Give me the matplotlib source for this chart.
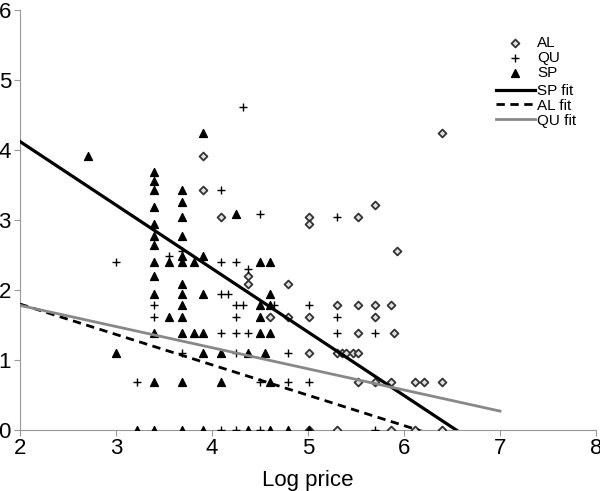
import numpy as np
import matplotlib
matplotlib.use("Agg")
import matplotlib.pyplot as plt

plt.rcParams['font.family'] = ['Liberation Sans', 'DejaVu Sans']

# SP points (log price, value)
sp_x = [2.71, 3.0, 3.22,
        3.4, 3.4, 3.4, 3.4, 3.4, 3.4, 3.4, 3.4, 3.4, 3.4, 3.4, 3.4, 3.4,
        3.555, 3.555,
        3.69, 3.69, 3.69, 3.69, 3.69, 3.69, 3.69, 3.69, 3.69, 3.69, 3.69, 3.69, 3.69,
        3.81, 3.81,
        3.91, 3.91, 3.91, 3.91, 3.91, 3.91,
        4.09, 4.09, 4.25, 4.38, 4.38,
        4.5, 4.5, 4.5, 4.5, 4.55,
        4.6, 4.6, 4.6, 4.6, 4.6, 4.6,
        4.79, 5.01]
sp_y = [3.91, 1.10, 0,
        3.69, 3.56, 3.43, 3.18, 2.94, 2.77, 2.64, 2.40, 2.20, 1.95, 1.39, 0.69, 0,
        2.40, 1.61,
        3.43, 3.26, 3.04, 2.77, 2.48, 2.40, 2.08, 1.95, 1.79, 1.61, 1.39, 0.69, 0,
        2.40, 1.39,
        4.25, 2.48, 1.95, 1.39, 1.10, 0,
        1.10, 0.69, 3.09, 1.10, 0,
        2.40, 1.79, 1.61, 1.39, 1.10,
        2.40, 1.95, 1.79, 1.39, 0.69, 0,
        0, 0]

# QU points
qu_x = [3.0, 3.22, 3.4, 3.4, 3.555, 3.69, 3.69,
        4.09, 4.09, 4.09, 4.09, 4.09, 4.17,
        4.25, 4.25, 4.25, 4.25, 4.25, 4.25,
        4.32, 4.32, 4.38, 4.38,
        4.5, 4.5, 4.5, 4.65,
        4.79, 4.79, 5.01, 5.01,
        5.3, 5.3, 5.3, 5.7, 5.7]
qu_y = [2.40, 0.69, 1.79, 1.61, 2.48, 2.56, 1.10,
        3.43, 2.40, 1.95, 1.39, 0, 1.95,
        2.40, 1.79, 1.61, 1.39, 1.10, 0,
        4.61, 1.79, 2.30, 1.39,
        3.09, 0.69, 0, 1.79,
        1.10, 0.69, 1.79, 0.69,
        3.04, 1.61, 1.39, 1.39, 0]

# AL points
al_x = [3.91, 3.91, 4.09, 4.38, 4.38, 4.6, 4.79, 4.79,
        5.01, 5.01, 5.01, 5.01, 5.01,
        5.3, 5.3, 5.3, 5.35, 5.4, 5.47,
        5.52, 5.52, 5.52, 5.52, 5.52,
        5.7, 5.7, 5.7, 5.7,
        5.86, 5.86, 5.86, 5.9, 5.93,
        6.11, 6.11, 6.21, 6.4, 6.4, 6.4]
al_y = [3.91, 3.43, 3.04, 2.20, 2.08, 1.61, 2.08, 1.61,
        3.04, 2.94, 1.61, 1.10, 0,
        1.79, 1.10, 0, 1.10, 1.10, 1.10,
        3.04, 1.79, 1.39, 1.10, 0.69,
        3.22, 1.79, 1.61, 0.69,
        1.79, 0.69, 0, 1.39, 2.56,
        0.69, 0, 0.69, 4.25, 0.69, 0]

# fitted lines: intercept, slope
sp_fit = (5.935, -0.907)
al_fit = (2.667, -0.434)
qu_fit = (2.384, -0.302)
fit_x = [2, 7]

fig = plt.figure(figsize=(6, 4.91), dpi=100)
ax = fig.add_axes([20/600, 61/491, 576/600, 420/491])

h_al = ax.scatter(al_x, al_y, marker='D', s=16, facecolors='#e0e0e0', edgecolors='#333333',
                  linewidths=1.3, label='AL', zorder=3)
h_qu = ax.scatter(qu_x, qu_y, marker='+', s=40, color='black', linewidths=1.0, label='QU', zorder=3)
h_sp = ax.scatter(sp_x, sp_y, marker='^', s=32, color='black', label='SP', zorder=3)

xx = np.array(fit_x)
l_sp, = ax.plot(xx, sp_fit[0] + sp_fit[1]*xx, color='black', lw=2.3, label='SP fit', zorder=4)
l_al, = ax.plot(xx, al_fit[0] + al_fit[1]*xx, color='black', lw=2, ls=(0, (3, 2)), label='AL fit', zorder=4)
l_qu, = ax.plot(xx, qu_fit[0] + qu_fit[1]*xx, color='#888888', lw=2, label='QU fit', zorder=4)

ax.set_xlim(2, 8)
ax.set_ylim(0, 6)
ax.set_xticks(range(2, 9))
ax.set_yticks(range(0, 7))
for s in ['top', 'right']:
    ax.spines[s].set_visible(False)
for s in ['left', 'bottom']:
    ax.spines[s].set_color('#999999')
ax.tick_params(colors='#999999', labelcolor='black', labelsize=16, length=4)
ax.tick_params(axis='y', pad=2.5)
ax.tick_params(axis='x', pad=2)
ax.set_xlabel('Log price', fontsize=16, labelpad=8)

leg_kw = dict(bbox_transform=fig.transFigure, frameon=False, fontsize=11, handlelength=2.55,
              handletextpad=0.15, labelspacing=0.05, borderpad=0, borderaxespad=0, loc='upper left')
leg1 = ax.legend([h_al, h_qu, h_sp], ['AL', 'QU', 'SP'],
                 bbox_to_anchor=(496/600, 1 - 36/491), **leg_kw)
ax.add_artist(leg1)
ax.legend([l_sp, l_al, l_qu], ['SP fit', 'AL fit', 'QU fit'],
          bbox_to_anchor=(496/600, 1 - 84/491), **leg_kw)

fig.savefig('out.png', dpi=100)
